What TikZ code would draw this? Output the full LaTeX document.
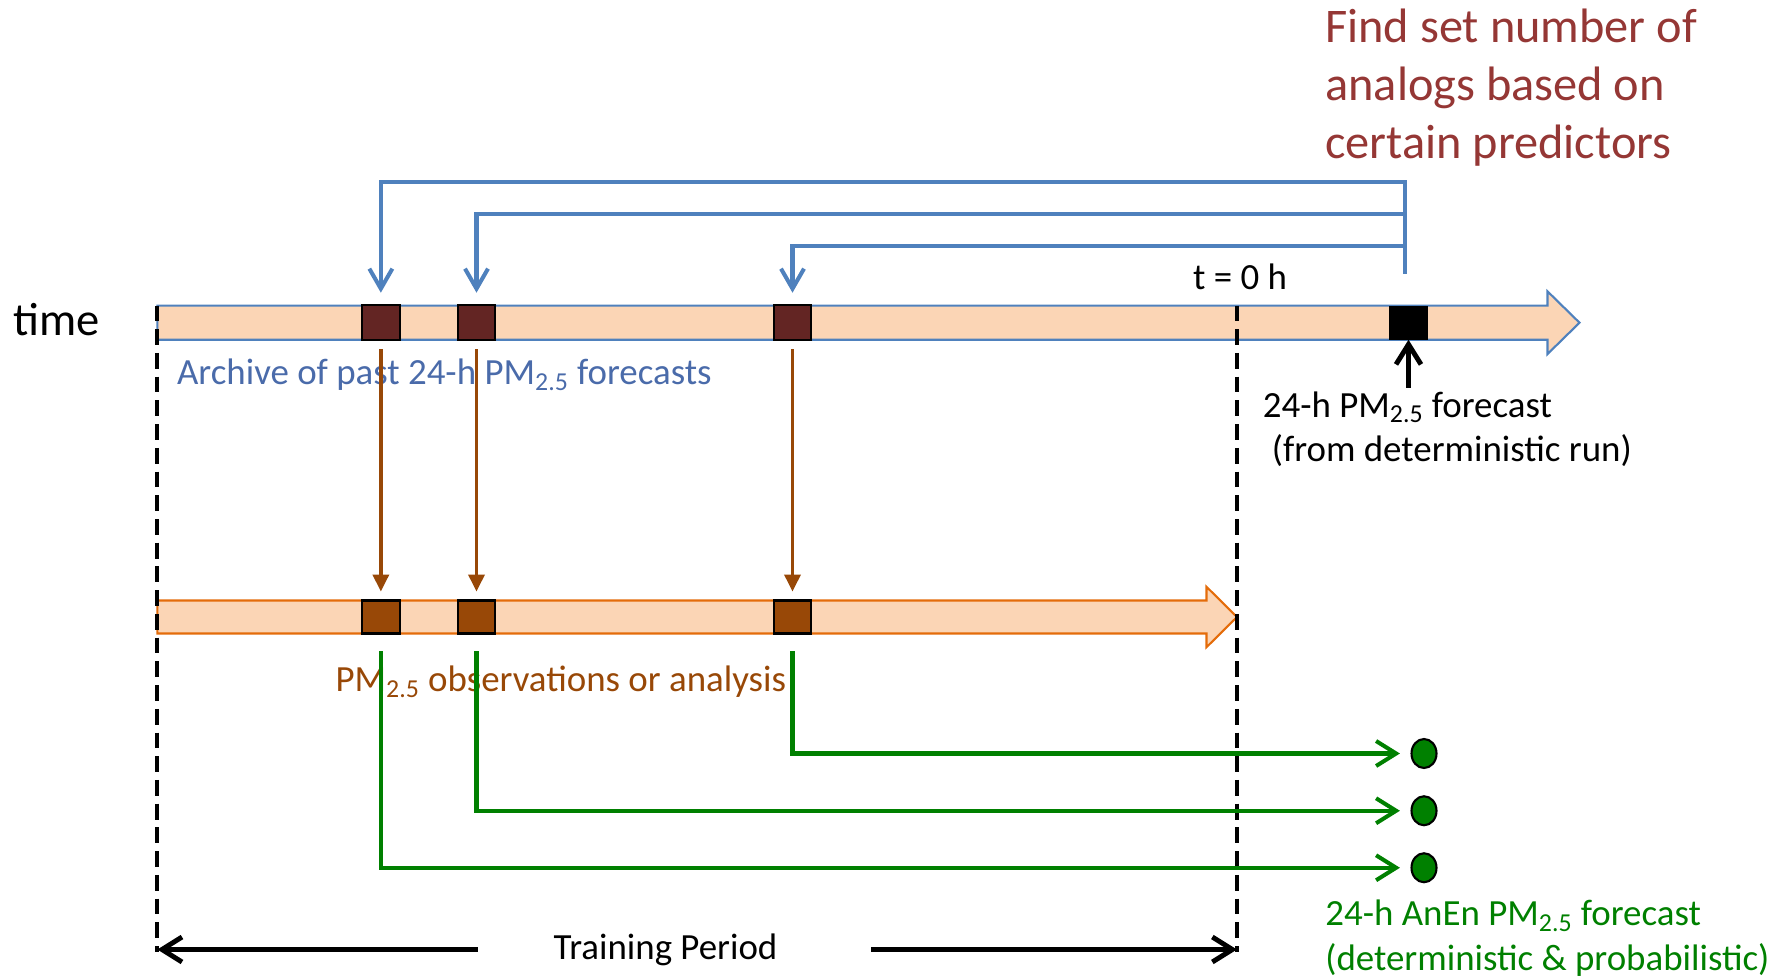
\documentclass[tikz,border=0pt]{standalone}
\usepackage{fontspec}
\setmainfont{Carlito}
\usetikzlibrary{arrows.meta,shapes.geometric}

\definecolor{peach}{HTML}{FBD5B5}
\definecolor{barblue}{HTML}{4F81BD}
\definecolor{barorange}{HTML}{E46C0A}
\definecolor{darkred}{HTML}{632523}
\definecolor{rust}{HTML}{984807}
\definecolor{textblue}{HTML}{4A6BAA}
\definecolor{textred}{HTML}{953735}
\definecolor{anengreen}{HTML}{008000}

\tikzset{
  fcst/.style={draw=black, fill=darkred, line width=1.2pt, minimum width=0.75cm, minimum height=0.7cm, inner sep=0pt},
  obs/.style={fcst, fill=rust, minimum height=0.66cm},
  member/.style={ellipse, draw=black, fill=anengreen, line width=1.2pt, minimum width=0.5cm, minimum height=0.58cm, inner sep=0pt},
  lbl/.style={font=\fontsize{21}{25.3}\selectfont, inner sep=0pt},
  pick/.style={draw=barblue, line width=2.3pt, -{Straight Barb[length=4mm,width=4.6mm]}, shorten >=6.5pt},
  feed/.style={draw=rust, line width=2pt, -{Triangle[length=3.4mm,width=3.2mm]}, shorten <=4.5pt, shorten >=4.5pt},
  anen/.style={draw=anengreen, line width=2.3pt, -{Straight Barb[length=4mm,width=5mm]}, shorten <=9.5pt, shorten >=6pt},
  span/.style={draw=black, line width=2.8pt, -{Straight Barb[length=4mm,width=5mm]}},
  dashline/.style={draw=black, line width=2.3pt, dash pattern=on 9pt off 4.5pt}
}

\begin{document}
\begin{tikzpicture}
\useasboundingbox (0,0) rectangle (35.76,-19.545);

% time bars
\draw[draw=barblue, fill=peach, line width=1.2pt] (3.147,-6.112) -- (30.95,-6.112) -- (30.95,-5.827) -- (31.59,-6.454) -- (30.95,-7.081) -- (30.95,-6.796) -- (3.147,-6.796) -- cycle;
\draw[draw=barorange, fill=peach, line width=1.2pt] (3.147,-12.01) -- (24.13,-12.01) -- (24.13,-11.736) -- (24.74,-12.34) -- (24.13,-12.944) -- (24.13,-12.67) -- (3.147,-12.67) -- cycle;

\coordinate (s0) at (3.147,-6.11);
\coordinate (s1) at (3.147,-19.04);
\coordinate (e0) at (24.74,-6.11);
\coordinate (e1) at (24.74,-19.04);
\draw[dashline] (s0) -- (s1);
\draw[dashline] (e0) -- (e1);

\node[font=\fontsize{26.5}{30}\selectfont, inner sep=0pt] (time) at (1.14,-6.39) {time};
\node[lbl] (t0) at (24.80,-5.54) {t = 0 h};

\node[fcst] (f1) at (7.617,-6.454) {};
\node[fcst] (f2) at (9.53,-6.454) {};
\node[fcst] (f3) at (15.85,-6.454) {};
\node[fcst, fill=black, minimum height=0.64cm] (n0) at (28.17,-6.454) {};

\node[obs] (o1) at (7.617,-12.34) {};
\node[obs] (o2) at (9.53,-12.34) {};
\node[obs] (o3) at (15.85,-12.34) {};

\node[member] (d1) at (28.48,-15.07) {};
\node[member] (d2) at (28.48,-16.215) {};
\node[member] (d3) at (28.48,-17.355) {};

\node[lbl, anchor=west, text=textblue] (arch) at (3.535,-7.5) {Archive of past 24-h PM\textsubscript{2.5} forecasts};
\node[lbl, anchor=west, text=rust] (obsl) at (6.705,-13.64) {PM\textsubscript{2.5} observations or analysis};
\node[lbl, anchor=west, align=left] (fc) at (25.25,-8.58) {24-h PM\textsubscript{2.5} forecast\\\hspace{0.18cm}(from deterministic run)};
\node[lbl, anchor=west, align=left, text=textred, font=\fontsize{27.5}{33}\selectfont] (find) at (26.50,-1.75) {Find set number of\\analogs based on\\certain predictors};
\node[lbl, anchor=west, align=left, text=anengreen] (out) at (26.50,-18.76) {24-h AnEn PM\textsubscript{2.5} forecast\\(deterministic \& probabilistic)};
\node[lbl] (tp) at (13.31,-18.99) {Training Period};

\coordinate (sel) at (28.10,-5.473);
\draw[pick] (sel) -- ++(0,1.824) -| (f1);
\draw[pick] (sel) -- ++(0,1.186) -| (f2);
\draw[pick] (sel) -- ++(0,0.547) -| (f3);

\draw[feed] (f1) -- (o1);
\draw[feed] (f2) -- (o2);
\draw[feed] (f3) -- (o3);

\draw[anen] (o3) |- (d1);
\draw[anen] (o2) |- (d2);
\draw[anen] (o1) |- (d3);

\draw[span, shorten <=2pt] (n0 |- fc.north) -- (n0);
\draw[span, shorten <=1.51cm] (tp.west) -- (tp.west -| s1);
\draw[span, shorten <=1.87cm] (tp.east) -- (tp.east -| e1);

\end{tikzpicture}
\end{document}
